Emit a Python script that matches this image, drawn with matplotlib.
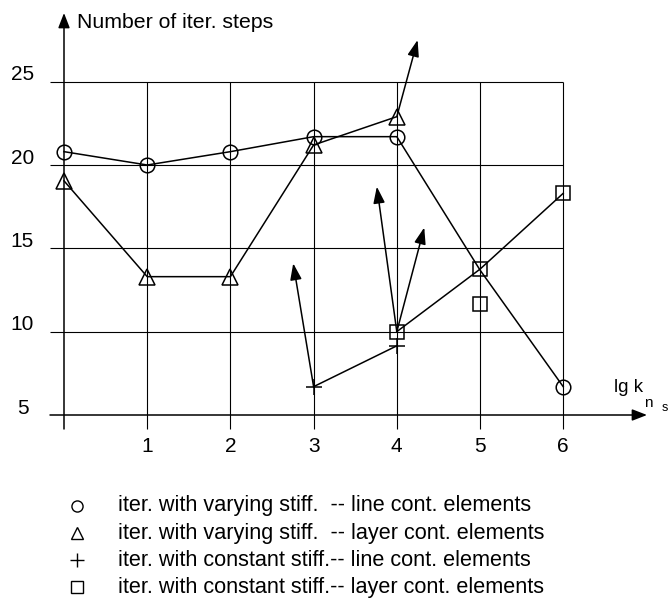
import matplotlib
matplotlib.use("Agg")
import matplotlib.pyplot as plt
from matplotlib.lines import Line2D

plt.rcParams['font.family'] = ['Liberation Sans', 'DejaVu Sans']

# lg k_ns values on the horizontal axis
lgk = [0, 1, 2, 3, 4, 5, 6]
x_ticks = [1, 2, 3, 4, 5, 6]
y_ticks = [5, 10, 15, 20, 25]

# iteration with varying stiffness, line contact elements (circles)
circ_y = [20.8, 20.0, 20.8, 21.7, 21.7, 13.7, 6.7]
# iteration with varying stiffness, layer contact elements (triangles)
tri_x = [0, 1, 2, 3, 4]
tri_y = [19.05, 13.3, 13.3, 21.2, 22.9]
# iteration with constant stiffness, line contact elements (plus)
plus_x = [3, 4]
plus_y = [6.7, 9.15]
# iteration with constant stiffness, layer contact elements (squares)
sq_x = [4, 5, 6]
sq_y = [10.0, 13.75, 18.3]
sq_extra_x = [5]
sq_extra_y = [11.65]

# divergence arrows: start point -> direction end point
arrow_start = [(4, 22.9), (3, 6.7), (4, 10.0), (4, 10.0)]
arrow_end = [(4.25, 27.5), (2.755, 14.1), (3.76, 18.7), (4.33, 16.25)]

legend_labels = [
    "iter. with varying stiff.  -- line cont. elements",
    "iter. with varying stiff.  -- layer cont. elements",
    "iter. with constant stiff.-- line cont. elements",
    "iter. with constant stiff.-- layer cont. elements",
]

W, H, DPI = 672, 605, 100
fig = plt.figure(figsize=(W / DPI, H / DPI), dpi=DPI)
ax = fig.add_axes([0, 0, 1, 1])
ax.set_axis_off()

# pixel layout of the diagram
px0, pxu = 64.0, 83.2      # x=0 position and px per unit
py5, pyu = 415.0, 16.667   # y=5 position and px per unit
ax.set_xlim(-px0 / pxu, (W - px0) / pxu)
ax.set_ylim(5 - (H - py5) / pyu, 5 + py5 / pyu)

def dx(px):
    return (px - px0) / pxu

def dy(py):
    return 5 + (py5 - py) / pyu

k = 'black'
grid_lw = 0.8
# horizontal grid
ax.hlines(y_ticks[1:], dx(50), x_ticks[-1], color=k, lw=grid_lw)
# vertical grid (extends below the axis as ticks)
ax.vlines(x_ticks, dy(429), y_ticks[-1], color=k, lw=grid_lw)

# axes with arrow heads
axis_arrow = dict(arrowstyle='-|>,head_length=0.9,head_width=0.35',
                  mutation_scale=10, color=k, lw=1.1, shrinkA=0, shrinkB=0)
ax.annotate('', xy=(dx(647), 5), xytext=(dx(50), 5), arrowprops=axis_arrow)
ax.annotate('', xy=(0, dy(13)), xytext=(0, dy(429)), arrowprops=axis_arrow)

# tick labels
for t in y_ticks:
    ax.text(dx(22.5), t + 0.4, str(t), ha='center', va='center', fontsize=15)
for t in x_ticks:
    ax.text(t, dy(447), str(t), ha='center', va='center', fontsize=15)

ax.text(dx(77), dy(22), "Number of iter. steps", ha='left', va='center', fontsize=15.3)
ax.text(dx(614), dy(388), "lg k", ha='left', va='center', fontsize=13.5)
ax.text(dx(644), dy(403), "n", ha='left', va='center', fontsize=11)
ax.text(dx(662), dy(408), "s", ha='left', va='center', fontsize=9)

line_kw = dict(color=k, lw=1.1, mfc='none', mec=k, mew=1.1, clip_on=False)
ax.plot(lgk, circ_y, marker='o', ms=10.5, markevery=[0, 1, 2, 3, 4, 6], **line_kw)
ax.plot(tri_x, tri_y, marker='^', ms=12, **line_kw)
ax.plot(plus_x, plus_y, marker='+', ms=12, **line_kw)
ax.plot(sq_x, sq_y, marker='s', ms=10.5, **line_kw)
ax.plot(sq_extra_x, sq_extra_y, ls='none', marker='s', ms=10.5, mfc='none', mec=k, mew=1.1)

data_arrow = dict(arrowstyle='-|>,head_length=1.0,head_width=0.35',
                  mutation_scale=10, color=k, lw=1.1, shrinkA=0, shrinkB=0)
for s, e in zip(arrow_start, arrow_end):
    ax.annotate('', xy=e, xytext=s, arrowprops=data_arrow)

# legend
markers = [('o', 8), ('^', 9), ('+', 10), ('s', 8)]
rows = [506, 533, 560, 587]
for (m, s), lab, r in zip(markers, legend_labels, rows):
    fig.add_artist(Line2D([77 / W], [1 - r / H], transform=fig.transFigure,
                          marker=m, ms=s, mfc='none', mec=k, mew=1.0, ls='none'))
    fig.text(118 / W, 1 - r / H, lab, ha='left', va='center', fontsize=15.6)

fig.savefig("out.png", dpi=DPI)
